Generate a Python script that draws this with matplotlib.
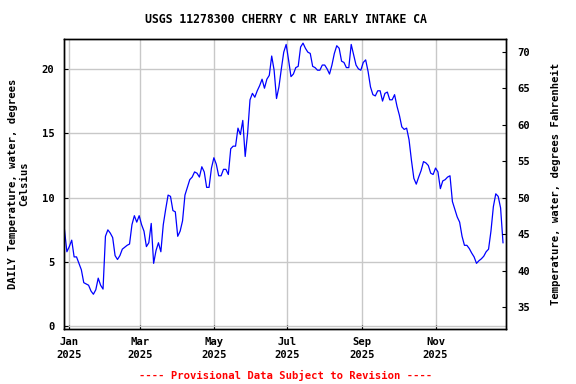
import matplotlib
matplotlib.use("Agg")
import matplotlib.pyplot as plt
import matplotlib.dates as mdates
import pandas as pd

# daily water temperature (deg C), read every 2 days starting 2024-12-28
start_date = "2024-12-28"
temps_c = [
    7.5, 5.8, 6.2, 6.7, 5.4, 5.4, 4.9, 4.4, 3.4, 3.3, 3.2, 2.75, 2.5, 2.85, 3.75, 3.2,
    2.9, 7.0, 7.5, 7.25, 6.9, 5.5, 5.2, 5.5, 6.0, 6.15, 6.3, 6.4, 7.9, 8.6, 8.1, 8.6,
    7.9, 7.4, 6.2, 6.5, 8.0, 4.9, 5.9, 6.5, 5.8, 7.9, 9.1, 10.2, 10.1, 9.0, 8.9, 7.0,
    7.4, 8.2, 10.2, 10.8, 11.4, 11.6, 12.0, 11.9, 11.6, 12.4, 12.0, 10.8, 10.8, 12.3,
    13.1, 12.6, 11.7, 11.7, 12.2, 12.2, 11.8, 13.8, 14.0, 14.0, 15.4, 14.9, 16.0, 13.2,
    15.0, 17.6, 18.1, 17.8, 18.3, 18.7, 19.2, 18.5, 19.2, 19.5, 21.0, 19.9, 17.7, 18.6,
    20.0, 21.3, 21.9, 20.7, 19.4, 19.6, 20.1, 20.2, 21.7, 22.0, 21.6, 21.3, 21.2, 20.2,
    20.1, 19.9, 19.9, 20.3, 20.3, 20.0, 19.6, 20.3, 21.2, 21.8, 21.6, 20.6, 20.5, 20.1,
    20.1, 21.9, 21.1, 20.3, 20.0, 19.9, 20.5, 20.7, 19.8, 18.6, 18.0, 17.9, 18.3, 18.3,
    17.5, 18.1, 18.2, 17.6, 17.6, 18.0, 17.1, 16.4, 15.5, 15.3, 15.4, 14.5, 12.9, 11.5,
    11.05, 11.6, 12.1, 12.8, 12.7, 12.5, 11.9, 11.8, 12.3, 12.0, 10.7, 11.3, 11.4, 11.6,
    11.7, 9.7, 9.1, 8.5, 8.1, 7.0, 6.3, 6.3, 6.05, 5.7, 5.4, 4.9, 5.1, 5.25, 5.45,
    5.8, 6.0, 7.4, 9.3, 10.3, 10.1, 9.2, 6.5,
]
dates = pd.date_range(start_date, periods=len(temps_c), freq="2D")

tick_dates = ["2025-01-01", "2025-03-01", "2025-05-01", "2025-07-01", "2025-09-01", "2025-11-01"]
tick_labels = ["Jan\n2025", "Mar\n2025", "May\n2025", "Jul\n2025", "Sep\n2025", "Nov\n2025"]
c_ticks = [0, 5, 10, 15, 20]
f_ticks = [35, 40, 45, 50, 55, 60, 65, 70]

title = "USGS 11278300 CHERRY C NR EARLY INTAKE CA"
note = "---- Provisional Data Subject to Revision ----"

mono = "DejaVu Sans Mono"

fig = plt.figure(figsize=(5.76, 3.84), dpi=100)
ax = fig.add_axes([0.1116, 0.1432, 0.7669, 0.7545])
ax.plot(dates, temps_c, color="#0000ff", lw=0.9)

ax.set_xlim(pd.Timestamp("2024-12-27 20:00"), pd.Timestamp("2025-12-29 12:00"))
ax.set_ylim(-0.2, 22.3)
ax.set_xticks(pd.to_datetime(tick_dates))
ax.set_xticklabels(tick_labels, linespacing=1.35)
ax.set_yticks(c_ticks)
ax.grid(True, color="#c8c8c8", lw=1)
ax.set_axisbelow(True)
ax.tick_params(direction="in", length=3, labelsize=7.6)
ax.tick_params(axis="x", pad=6)
ax.tick_params(axis="y", pad=7)
for lab in ax.get_xticklabels() + ax.get_yticklabels():
    lab.set_family(mono)
    lab.set_fontweight("bold")
ax.set_ylabel("DAILY Temperature, water, degrees\nCelsius", family=mono,
              fontweight="bold", fontsize=7.6, labelpad=9, linespacing=1.2)

ax2 = ax.twinx()
ax2.set_ylim(32, 71.7)
ax2.set_yticks(f_ticks)
ax2.tick_params(direction="in", length=3, labelsize=7.6, pad=8)
for lab in ax2.get_yticklabels():
    lab.set_family(mono)
    lab.set_fontweight("bold")
ax2.set_ylabel("Temperature, water, degrees Fahrenheit", family=mono,
               fontweight="bold", fontsize=7.6, labelpad=15)

for a in (ax, ax2):
    for sp in a.spines.values():
        sp.set_linewidth(1)
        sp.set_color("black")

fig.text(0.4965, 0.95, title, ha="center", va="center", family=mono,
         fontweight="bold", fontsize=8.3)
fig.text(0.4965, 0.023, note, ha="center", va="center", family=mono,
         fontweight="bold", fontsize=7.6, color="red")

fig.savefig("out.png", dpi=100)
